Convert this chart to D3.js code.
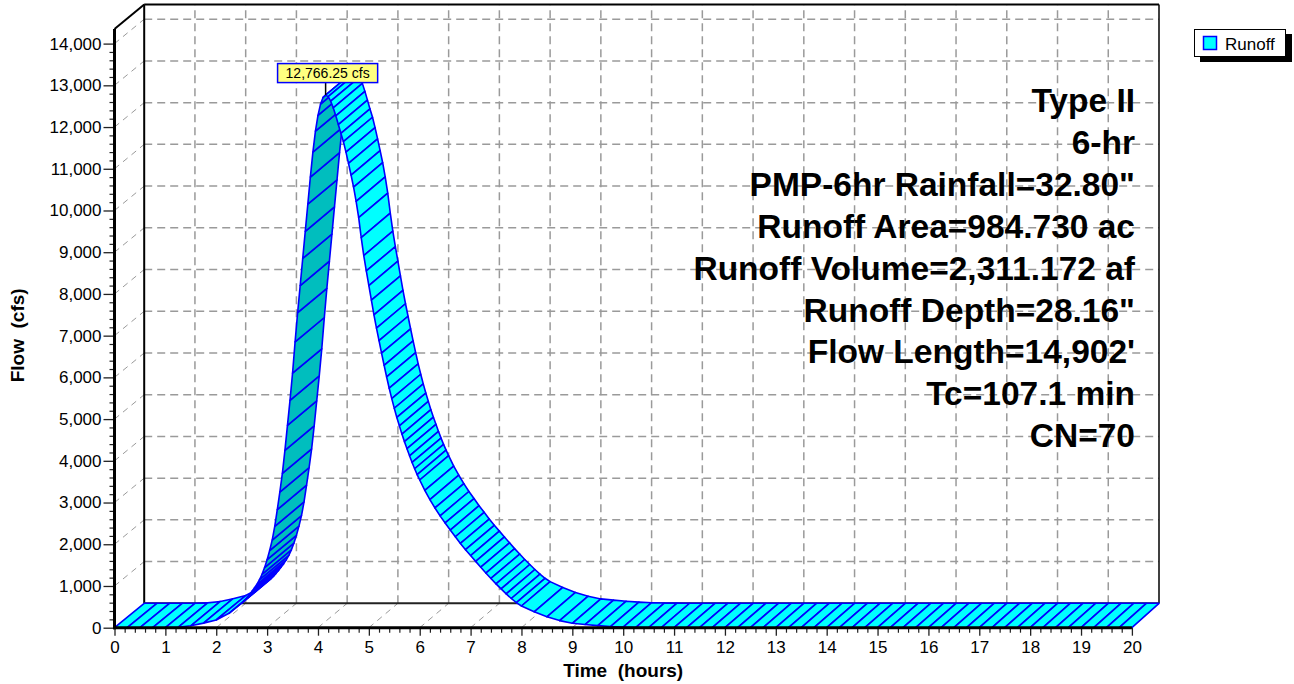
<!DOCTYPE html>
<html>
<head>
<meta charset="utf-8">
<script src="https://cdn.jsdelivr.net/npm/d3@7"></script>
<style>
  body { margin: 0; background: #fff; }
  svg { display: block; }
  text { font-family: "Liberation Sans", Arial, Helvetica, sans-serif; }
</style>
</head>
<body>
<svg id="chart" width="1294" height="684"></svg>
<script>
// Runoff hydrograph (time in hours, flow in cfs)
const hours = [
  0, 0.25, 0.5, 0.75, 1.0, 1.25, 1.5, 1.75, 2.0, 2.25, 2.5,
  2.55, 2.6, 2.65, 2.7, 2.75, 2.8, 2.85, 2.9, 2.95, 3.0,
  3.05, 3.1, 3.15, 3.2, 3.25, 3.3, 3.35, 3.4, 3.45, 3.5,
  3.55, 3.6, 3.65, 3.7, 3.75, 3.8, 3.85, 3.9, 3.95, 4.0,
  4.05, 4.1, 4.15, 4.2, 4.25, 4.3, 4.35, 4.4, 4.45, 4.5,
  4.55, 4.6, 4.65, 4.7, 4.75, 4.8, 4.85, 4.9, 4.95, 5.0,
  5.05, 5.1, 5.15, 5.2, 5.25, 5.3, 5.35, 5.4, 5.45, 5.5,
  5.55, 5.6, 5.65, 5.7, 5.75, 5.8, 5.85, 5.9, 5.95, 6.0,
  6.1, 6.2, 6.3, 6.4, 6.5, 6.6, 6.7, 6.8, 6.9, 7.0,
  7.1, 7.2, 7.3, 7.4, 7.5, 7.6, 7.7, 7.8, 7.9, 8.0,
  8.25, 8.5, 8.75, 9.0, 9.25, 9.5, 9.75, 10.0, 10.25, 10.5,
  10.75, 11.0, 11.25, 11.5, 11.75, 12.0, 12.25, 12.5, 12.75, 13.0,
  13.25, 13.5, 13.75, 14.0, 14.25, 14.5, 14.75, 15.0, 15.25, 15.5,
  15.75, 16.0, 16.25, 16.5, 16.75, 17.0, 17.25, 17.5, 17.75, 18.0,
  18.25, 18.5, 18.75, 19.0, 19.25, 19.5, 19.75, 20.0
];
const flowCfs = [
  0, 0, 0, 0, 0, 10, 45, 110, 185, 345, 590,
  650, 720, 790, 870, 950, 1040, 1150, 1280, 1440, 1630,
  1850, 2100, 2430, 2830, 3250, 3700, 4250, 4850, 5450, 6100,
  6850, 7550, 8200, 8850, 9500, 10150, 10800, 11400, 11900, 12280,
  12550, 12710, 12766.25, 12730, 12620, 12460, 12270, 12060, 11850, 11650,
  11400, 11130, 10850, 10560, 10220, 9830, 9350, 8920, 8550, 8200,
  7850, 7500, 7180, 6880, 6580, 6290, 6010, 5740, 5490, 5260,
  5040, 4840, 4640, 4460, 4290, 4120, 3960, 3810, 3670, 3540,
  3290, 3070, 2870, 2680, 2510, 2340, 2180, 2020, 1870, 1730,
  1590, 1450, 1310, 1180, 1050, 930, 810, 700, 600, 520,
  380, 260, 170, 105, 75, 50, 28, 14, 6, 3,
  1, 0, 0, 0, 0, 0, 0, 0, 0, 0,
  0, 0, 0, 0, 0, 0, 0, 0, 0, 0,
  0, 0, 0, 0, 0, 0, 0, 0, 0, 0,
  0, 0, 0, 0, 0, 0, 0, 0
];

const xTickValues = [0, 1, 2, 3, 4, 5, 6, 7, 8, 9, 10, 11, 12, 13, 14, 15, 16, 17, 18, 19, 20];
const yTickValues = [0, 1000, 2000, 3000, 4000, 5000, 6000, 7000, 8000, 9000, 10000, 11000, 12000, 13000, 14000];
const peakFlow = 12766.25;
const peakLabel = "12,766.25 cfs";
const seriesName = "Runoff";
const xTitle = "Time  (hours)";
const yTitle = "Flow  (cfs)";
const summaryLines = [
  "Type II",
  "6-hr",
  "PMP-6hr Rainfall=32.80\"",
  "Runoff Area=984.730 ac",
  "Runoff Volume=2,311.172 af",
  "Runoff Depth=28.16\"",
  "Flow Length=14,902'",
  "Tc=107.1 min",
  "CN=70"
];

const svg = d3.select("#chart");
const flowMax = 14350;

// front plane and back plane of the 3-D box
const xF = d3.scaleLinear().domain([0, 20]).range([114.5, 1131.9]);
const xB = d3.scaleLinear().domain([0, 20]).range([144.2, 1159]);
const yF = d3.scaleLinear().domain([0, flowMax]).range([627.7, 29]);
const yB = d3.scaleLinear().domain([0, flowMax]).range([603.3, 4.6]);

const gridColor = "#9a9a9a";
const grid = svg.append("g");

// back wall grid
grid.selectAll("line.hg").data(yTickValues.slice(1)).join("line")
  .attr("x1", xB(0)).attr("x2", xB(20))
  .attr("y1", d => yB(d)).attr("y2", d => yB(d))
  .attr("stroke", gridColor).attr("stroke-width", 1.5).attr("stroke-dasharray", "8,5");
grid.selectAll("line.vg").data(xTickValues.slice(1, -1)).join("line")
  .attr("x1", d => xB(d)).attr("x2", d => xB(d))
  .attr("y1", yB(0)).attr("y2", yB(flowMax))
  .attr("stroke", gridColor).attr("stroke-width", 1.5).attr("stroke-dasharray", "8,5");

// side wall and floor grid (depth lines)
grid.selectAll("line.sw").data(yTickValues.slice(1)).join("line")
  .attr("x1", xF(0)).attr("y1", d => yF(d))
  .attr("x2", xB(0)).attr("y2", d => yB(d))
  .attr("stroke", gridColor).attr("stroke-width", 1).attr("stroke-dasharray", "6,5");
grid.selectAll("line.fl").data(xTickValues.slice(1)).join("line")
  .attr("x1", d => xF(d)).attr("y1", yF(0))
  .attr("x2", d => xB(d)).attr("y2", yB(0))
  .attr("stroke", gridColor).attr("stroke-width", 1).attr("stroke-dasharray", "6,5");

// box edges
const box = svg.append("g").attr("stroke", "#000").attr("fill", "none");
box.append("line").attr("x1", xB(0)).attr("y1", yB(0)).attr("x2", xB(0)).attr("y2", yB(flowMax)).attr("stroke-width", 2);
box.append("line").attr("x1", xB(0)).attr("y1", yB(flowMax)).attr("x2", xB(20)).attr("y2", yB(flowMax)).attr("stroke-width", 2);
box.append("line").attr("x1", xB(20)).attr("y1", yB(flowMax)).attr("x2", xB(20)).attr("y2", yB(0)).attr("stroke-width", 1.5);
box.append("line").attr("x1", xB(0)).attr("y1", yB(0)).attr("x2", xB(20)).attr("y2", yB(0)).attr("stroke-width", 2).attr("stroke", "#222");
box.append("line").attr("x1", xF(0)).attr("y1", yF(flowMax)).attr("x2", xB(0)).attr("y2", yB(flowMax)).attr("stroke-width", 2);

// hydrograph ribbon: one quad per time step, front edge to back edge
const pts = hours.map((t, i) => ({
  fx: xF(t), fy: yF(flowCfs[i]), bx: xB(t), by: yB(flowCfs[i])
}));
const quads = d3.range(pts.length - 1).map(i => {
  const a = pts[i], b = pts[i + 1];
  const sx = b.fx - a.fx, sy = b.fy - a.fy;
  const dx = a.bx - a.fx, dy = a.by - a.fy;
  const cross = sx * dy - sy * dx;
  return { a, b, under: cross > 0 };
});
const ribbon = svg.append("g");
ribbon.selectAll("path").data(quads).join("path")
  .attr("d", q => `M${q.a.fx},${q.a.fy}L${q.b.fx},${q.b.fy}L${q.b.bx},${q.b.by}L${q.a.bx},${q.a.by}Z`)
  .attr("fill", q => q.under ? "#00bebe" : "#00ffff")
  .attr("stroke", "#0000ff")
  .attr("stroke-width", 1.6)
  .attr("stroke-linejoin", "round");

// front axes
const axes = svg.append("g");
const yAxis = d3.axisLeft(yF).tickValues(yTickValues).tickFormat(d3.format(",")).tickSize(11).tickPadding(2);
const yAxisG = axes.append("g").attr("transform", `translate(${xF(0)},0)`).call(yAxis);
yAxisG.select(".domain").remove();
yAxisG.selectAll(".tick line").attr("stroke", "#222").attr("stroke-width", 1.3);
yAxisG.selectAll(".tick text").attr("font-size", 17).attr("fill", "#000").attr("font-family", "Liberation Sans, Arial, sans-serif");

const yMinor = d3.range(0, 14001, 200).filter(v => v % 1000 !== 0);
const yMinorG = axes.append("g").attr("transform", `translate(${xF(0)},0)`)
  .call(d3.axisLeft(yF).tickValues(yMinor).tickFormat("").tickSize(5));
yMinorG.select(".domain").remove();
yMinorG.selectAll(".tick line").attr("stroke", "#222").attr("stroke-width", 1.2);

const xAxis = d3.axisBottom(xF).tickValues(xTickValues).tickFormat(d3.format("d")).tickSize(8).tickPadding(5);
const xAxisG = axes.append("g").attr("transform", `translate(0,${yF(0)})`).call(xAxis);
xAxisG.select(".domain").remove();
xAxisG.selectAll(".tick line").attr("stroke", "#222").attr("stroke-width", 1.3);
xAxisG.selectAll(".tick text").attr("font-size", 17).attr("fill", "#000").attr("font-family", "Liberation Sans, Arial, sans-serif");

const xMinor = d3.range(0, 20.01, 0.2).filter(v => Math.abs(v - Math.round(v)) > 1e-6);
const xMinorG = axes.append("g").attr("transform", `translate(0,${yF(0)})`)
  .call(d3.axisBottom(xF).tickValues(xMinor).tickFormat("").tickSize(5));
xMinorG.select(".domain").remove();
xMinorG.selectAll(".tick line").attr("stroke", "#222").attr("stroke-width", 1.2);

axes.append("line").attr("x1", xF(0)).attr("y1", yF(0) + 1.5).attr("x2", xF(0)).attr("y2", yF(flowMax))
  .attr("stroke", "#000").attr("stroke-width", 3);
axes.append("line").attr("x1", xF(0) - 1.5).attr("y1", yF(0)).attr("x2", xF(20)).attr("y2", yF(0))
  .attr("stroke", "#000").attr("stroke-width", 3);

// axis titles
svg.append("text").attr("x", (xF(0) + xF(20)) / 2).attr("y", 677)
  .attr("text-anchor", "middle").attr("font-size", 19).attr("font-weight", "bold")
  .style("white-space", "pre").text(xTitle);
svg.append("text").attr("transform", `translate(24,${(yF(0) + yF(flowMax)) / 2 + 7}) rotate(-90)`)
  .attr("text-anchor", "middle").attr("font-size", 19).attr("font-weight", "bold")
  .style("white-space", "pre").text(yTitle);

// summary text block
svg.append("g").selectAll("text").data(summaryLines).join("text")
  .attr("x", 1135).attr("y", (d, i) => 112 + i * 41.9)
  .attr("text-anchor", "end").attr("font-size", 33.5).attr("font-weight", "bold")
  .attr("fill", "#000").text(d => d);

// peak mark
const iPeak = flowCfs.indexOf(peakFlow);
const px = xF(hours[iPeak]), py = yF(peakFlow);
const mark = svg.append("g");
mark.append("line").attr("x1", px).attr("y1", py).attr("x2", px).attr("y2", py - 13)
  .attr("stroke", "#000").attr("stroke-width", 1.5);
const markText = mark.append("text").attr("x", px + 2).attr("y", py - 17)
  .attr("text-anchor", "middle").attr("font-size", 14).attr("fill", "#000").text(peakLabel);
const mb = markText.node().getBBox();
mark.insert("rect", "text")
  .attr("x", mb.x - 8).attr("y", py - 31.5).attr("width", mb.width + 16).attr("height", 19)
  .attr("fill", "#ffff80").attr("stroke", "#0000ff").attr("stroke-width", 1.5);

// legend
const lg = svg.append("g").attr("transform", "translate(1194,29)");
lg.append("rect").attr("x", 6).attr("y", 5).attr("width", 92).attr("height", 28).attr("fill", "#000");
lg.append("rect").attr("x", 0.5).attr("y", 0.5).attr("width", 91).attr("height", 27)
  .attr("fill", "#fff").attr("stroke", "#000").attr("stroke-width", 1);
lg.append("rect").attr("x", 9.5).attr("y", 7.5).attr("width", 13).attr("height", 13)
  .attr("fill", "#00ffff").attr("stroke", "#0000ff").attr("stroke-width", 1.5);
lg.append("text").attr("x", 31).attr("y", 21).attr("font-size", 17).attr("fill", "#000").text(seriesName);
</script>
</body>
</html>
